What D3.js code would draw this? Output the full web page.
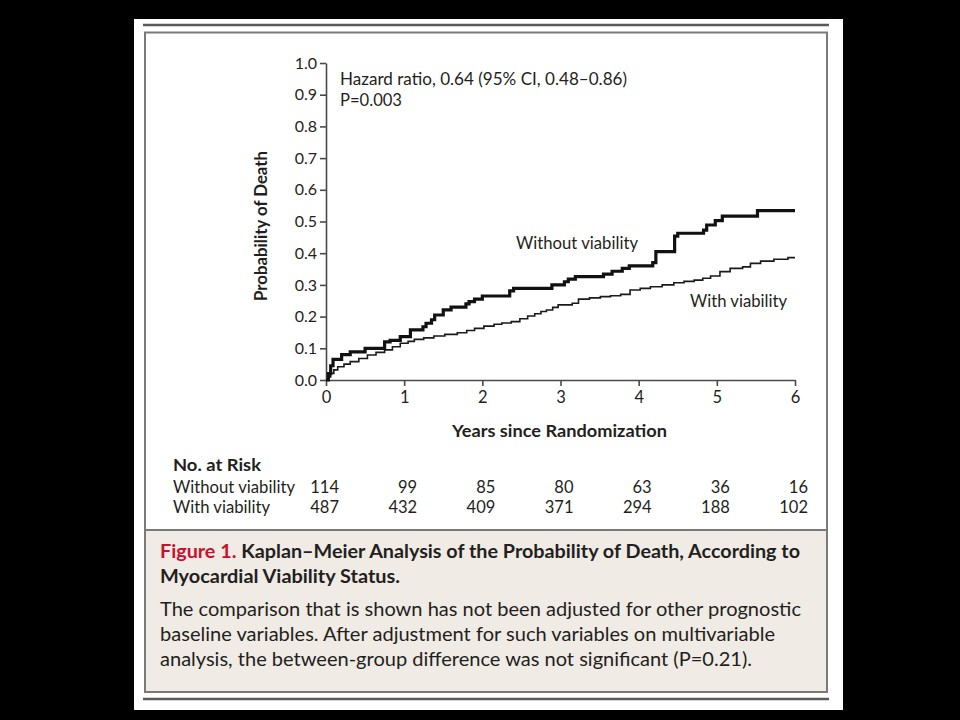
<!DOCTYPE html>
<html><head><meta charset="utf-8">
<script src="https://cdn.jsdelivr.net/npm/d3@7"></script>
<style>
body{margin:0;background:#000;}
svg{display:block;}
text{font-family:Lato,"Open Sans",sans-serif;fill:#231f20;}
</style></head>
<body>
<svg id="c" width="960" height="720"></svg>
<script>
// ---- data ----
const yTicks = [0,0.1,0.2,0.3,0.4,0.5,0.6,0.7,0.8,0.9,1.0];
const xTicks = [0,1,2,3,4,5,6];
const tWithout = [0,0.03,0.06,0.09,0.2,0.31,0.5,0.75,0.82,0.95,1.08,1.24,1.28,1.35,1.39,1.5,1.6,1.79,1.83,1.9,2.0,2.35,2.4,2.89,3.05,3.1,3.19,3.55,3.66,3.79,3.88,4.18,4.22,4.46,4.5,4.83,4.87,4.98,5.07,5.52,6.0];
const pWithout = [0,0.02,0.045,0.065,0.08,0.089,0.1,0.12,0.125,0.137,0.158,0.168,0.179,0.19,0.205,0.221,0.23,0.24,0.247,0.255,0.265,0.281,0.289,0.30,0.31,0.318,0.326,0.334,0.343,0.352,0.36,0.37,0.405,0.454,0.463,0.473,0.489,0.503,0.517,0.534,0.534];
const tWith = [0,0.03,0.06,0.1,0.15,0.23,0.31,0.42,0.53,0.64,0.75,0.85,0.95,1.05,1.13,1.25,1.38,1.52,1.68,1.8,1.9,2.02,2.15,2.25,2.37,2.48,2.58,2.67,2.75,2.82,2.9,2.97,3.15,3.23,3.37,3.51,3.64,3.77,3.89,4.02,4.15,4.3,4.45,4.58,4.71,4.82,4.92,5.04,5.17,5.33,5.43,5.56,5.73,5.91,6.0];
const pWith = [0,0.01,0.021,0.032,0.042,0.05,0.058,0.068,0.079,0.087,0.095,0.105,0.116,0.122,0.128,0.133,0.139,0.144,0.149,0.156,0.163,0.17,0.176,0.18,0.184,0.193,0.202,0.209,0.216,0.221,0.229,0.237,0.242,0.255,0.259,0.263,0.266,0.27,0.284,0.289,0.294,0.3,0.307,0.311,0.315,0.321,0.328,0.342,0.352,0.357,0.368,0.375,0.381,0.386,0.386];
const riskTimes = [0,1,2,3,4,5,6];
const riskWithout = [114,99,85,80,63,36,16];
const riskWith = [487,432,409,371,294,188,102];
const seriesNames = ["Without viability","With viability"];

// ---- frame ----
const svg = d3.select("#c");
svg.append("rect").attr("x",134).attr("y",19).attr("width",709).attr("height",691).attr("fill","#fff");
svg.append("line").attr("x1",143).attr("x2",829).attr("y1",25).attr("y2",25).attr("stroke","#5a5a5a").attr("stroke-width",2.5);
svg.append("rect").attr("x",145).attr("y",530).attr("width",682).attr("height",162).attr("fill","#f0ebe5");
svg.append("rect").attr("x",145).attr("y",32.5).attr("width",682).attr("height",659.5).attr("fill","none").attr("stroke","#7a7a7a").attr("stroke-width",2);
svg.append("line").attr("x1",145).attr("x2",827).attr("y1",530).attr("y2",530).attr("stroke","#7a7a7a").attr("stroke-width",2);
svg.append("line").attr("x1",143).attr("x2",829).attr("y1",699).attr("y2",699).attr("stroke","#5a5a5a").attr("stroke-width",2.5);

// ---- scales ----
const x = d3.scaleLinear().domain([0,6]).range([326,795]);
const y = d3.scaleLinear().domain([0,1]).range([380,63]);

const yAx = svg.append("g").attr("transform","translate(326,0)")
  .call(d3.axisLeft(y).tickValues(yTicks).tickFormat(d3.format(".1f")).tickSize(6).tickSizeOuter(0).tickPadding(3));
const xAx = svg.append("g").attr("transform","translate(0,380)")
  .call(d3.axisBottom(x).tickValues(xTicks).tickFormat(d3.format("d")).tickSize(6).tickSizeOuter(0).tickPadding(5));
[yAx,xAx].forEach(g=>{
  g.selectAll("path,line").attr("stroke","#4a4a4a").attr("stroke-width",1.6);
  g.selectAll("text").attr("font-size",16).attr("fill","#231f20").style("font-family","Lato,sans-serif");
});
xAx.selectAll("text").attr("font-size",16.5);

// ---- curves ----
const line = d3.line().x(d=>x(d[0])).y(d=>y(d[1])).curve(d3.curveStepAfter);
svg.append("path").datum(d3.zip(tWith,pWith)).attr("d",line)
  .attr("fill","none").attr("stroke","#1a1a1a").attr("stroke-width",1.6);
svg.append("path").datum(d3.zip(tWithout,pWithout)).attr("d",line)
  .attr("fill","none").attr("stroke","#111").attr("stroke-width",3.2).attr("stroke-linejoin","miter");

// ---- annotations ----
svg.append("text").attr("x",340).attr("y",85).attr("font-size",16.5).attr("textLength",287).attr("lengthAdjust","spacingAndGlyphs").text("Hazard ratio, 0.64 (95% CI, 0.48–0.86)");
svg.append("text").attr("x",340).attr("y",106).attr("font-size",16.5).attr("textLength",62).attr("lengthAdjust","spacingAndGlyphs").text("P=0.003");
svg.append("text").attr("x",516).attr("y",249).attr("font-size",16.5).attr("textLength",122).attr("lengthAdjust","spacingAndGlyphs").text(seriesNames[0]);
svg.append("text").attr("x",690).attr("y",307).attr("font-size",16.5).attr("textLength",97).attr("lengthAdjust","spacingAndGlyphs").text(seriesNames[1]);

svg.append("text").attr("x",452).attr("y",437).attr("font-size",17).attr("font-weight","bold").attr("textLength",215).attr("lengthAdjust","spacingAndGlyphs").text("Years since Randomization");
svg.append("text").attr("transform","translate(267,226) rotate(-90)").attr("text-anchor","middle").attr("font-size",16.5).attr("font-weight","bold").attr("textLength",150).attr("lengthAdjust","spacingAndGlyphs").text("Probability of Death");

// ---- risk table ----
svg.append("text").attr("x",173).attr("y",471).attr("font-size",17).attr("font-weight","bold").attr("textLength",88).attr("lengthAdjust","spacingAndGlyphs").text("No. at Risk");
svg.append("text").attr("x",173).attr("y",493).attr("font-size",16.5).attr("textLength",122).attr("lengthAdjust","spacingAndGlyphs").text(seriesNames[0]);
svg.append("text").attr("x",173).attr("y",513).attr("font-size",16.5).attr("textLength",97).attr("lengthAdjust","spacingAndGlyphs").text(seriesNames[1]);
svg.append("g").selectAll("text").data(d3.zip(riskTimes,riskWithout)).join("text")
  .attr("x",d=>x(d[0])+13).attr("y",493).attr("text-anchor","end").attr("font-size",16.5).text(d=>d[1]);
svg.append("g").selectAll("text").data(d3.zip(riskTimes,riskWith)).join("text")
  .attr("x",d=>x(d[0])+13).attr("y",513).attr("text-anchor","end").attr("font-size",16.5).text(d=>d[1]);

// ---- caption ----
const c1 = svg.append("text").attr("x",160).attr("y",558).attr("font-size",19.5).attr("font-weight","bold").attr("textLength",640).attr("lengthAdjust","spacingAndGlyphs");
c1.append("tspan").attr("fill","#c8102e").style("fill","#c8102e").text("Figure 1. ");
c1.append("tspan").text("Kaplan–Meier Analysis of the Probability of Death, According to");
svg.append("text").attr("x",160).attr("y",583).attr("font-size",19.5).attr("font-weight","bold").attr("textLength",240).attr("lengthAdjust","spacingAndGlyphs").text("Myocardial Viability Status.");
const body = [
  ["The comparison that is shown has not been adjusted for other prognostic",616,641],
  ["baseline variables. After adjustment for such variables on multivariable",641,615],
  ["analysis, the between-group difference was not significant (P=0.21).",666,592]
];
body.forEach(b=>svg.append("text").attr("x",160).attr("y",b[1]).attr("font-size",19.5).attr("textLength",b[2]).attr("lengthAdjust","spacingAndGlyphs").text(b[0]));
</script>
</body></html>
